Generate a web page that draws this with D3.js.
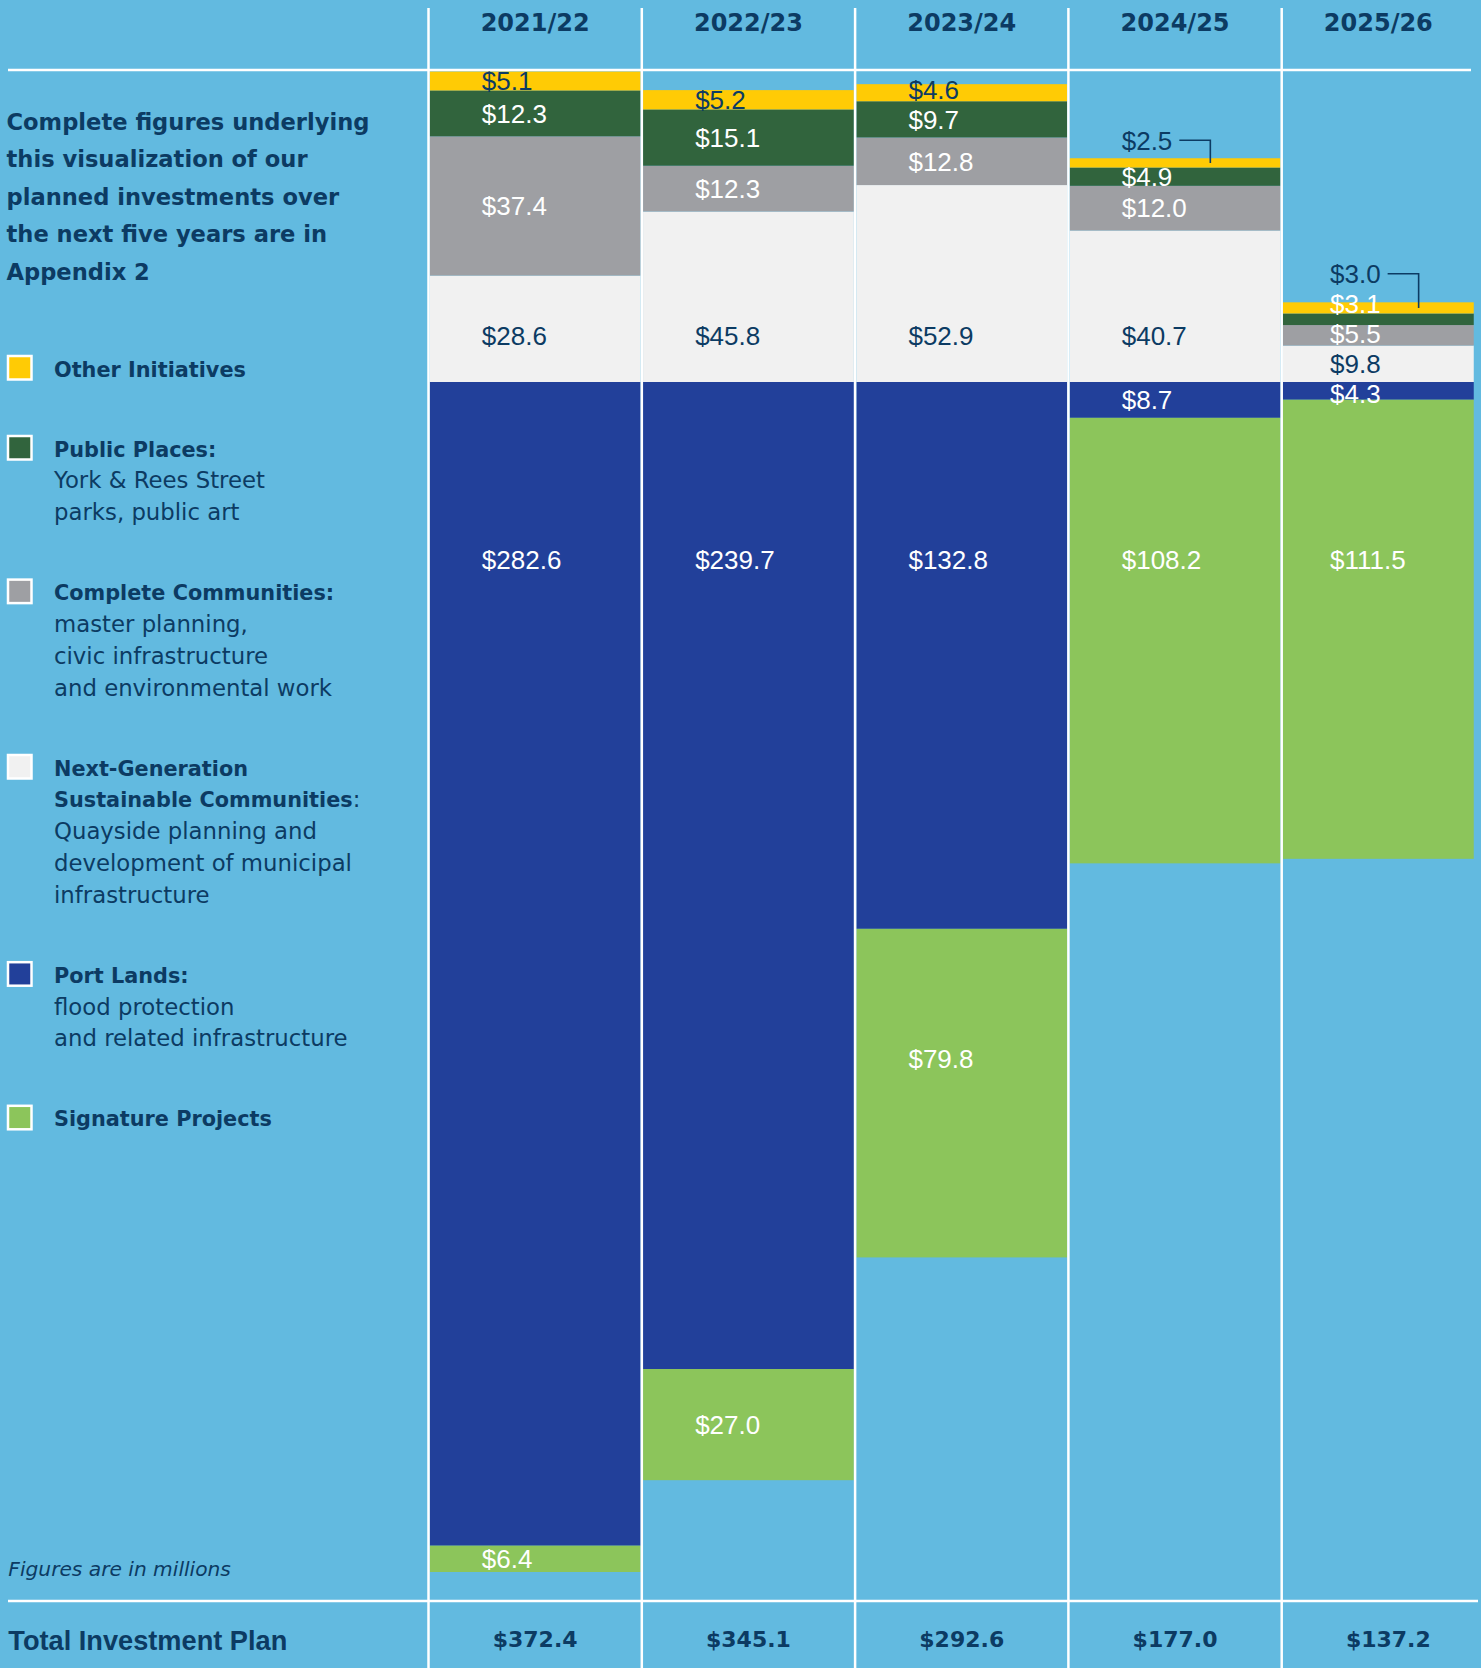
<!DOCTYPE html>
<html>
<head>
<meta charset="utf-8">
<script src="https://cdn.jsdelivr.net/npm/d3@7"></script>
<style>
  html, body { margin: 0; padding: 0; background: #62bae0; }
  svg { display: block; }
</style>
</head>
<body>
<svg id="chart" width="1481" height="1668"></svg>
<script>
// ---------------- DATA ----------------
const years = ["2021/22", "2022/23", "2023/24", "2024/25", "2025/26"];
const otherInitiatives    = [5.1, 5.2, 4.6, 2.5, 3.0];
const publicPlaces        = [12.3, 15.1, 9.7, 4.9, 3.1];
const completeCommunities = [37.4, 12.3, 12.8, 12.0, 5.5];
const nextGeneration      = [28.6, 45.8, 52.9, 40.7, 9.8];
const portLands           = [282.6, 239.7, 132.8, 8.7, 4.3];
const signatureProjects   = [6.4, 27.0, 79.8, 108.2, 111.5];

const legendKeys = ["oi", "pp", "cc", "ng", "pl", "sp"];
const legendTitles = [
  ["Other Initiatives"],
  ["Public Places:"],
  ["Complete Communities:"],
  ["Next-Generation", "Sustainable Communities"],
  ["Port Lands:"],
  ["Signature Projects"]
];
const legendTitleSuffix = ["", "", "", ":", "", ""];
const legendNotes = [
  [],
  ["York & Rees Street", "parks, public art"],
  ["master planning,", "civic infrastructure", "and environmental work"],
  ["Quayside planning and", "development of municipal", "infrastructure"],
  ["flood protection", "and related infrastructure"],
  []
];
const introLines = [
  "Complete figures underlying",
  "this visualization of our",
  "planned investments over",
  "the next five years are in",
  "Appendix 2"
];
const unitNote = "Figures are in millions";
const totalTitle = "Total Investment Plan";

// ---------------- STYLE ----------------
const W = 1481, H = 1668;
const BG = "#62bae0", NAVY = "#0c3b63", WHITE = "#ffffff";
const seriesKeys = ["ng", "cc", "pp", "oi", "pl", "sp"];
const seriesColor = { oi: "#ffcb05", pp: "#31643d", cc: "#9e9fa3", ng: "#f1f1f1", pl: "#22409a", sp: "#8cc55b" };
const labelColor  = { oi: NAVY, pp: WHITE, cc: WHITE, ng: NAVY, pl: WHITE, sp: WHITE };

const plotLeft = 428.5, plotRight = 1475, bandEnd = 1495;
const topY = 71.5, baseY = 382, bottomY = 1572;
const labelGap = 30;

const svg = d3.select("#chart");
svg.append("rect").attr("width", W).attr("height", H).attr("fill", BG);

// ---------------- STACK ----------------
const rows = years.map((yr, i) => ({
  year: yr,
  ng: nextGeneration[i], cc: completeCommunities[i], pp: publicPlaces[i], oi: otherInitiatives[i],
  pl: -portLands[i], sp: -signatureProjects[i]
}));
const layers = d3.stack().keys(seriesKeys).offset(d3.stackOffsetDiverging)(rows);
const maxAbove = d3.max(layers, L => d3.max(L, d => d[1]));
const minBelow = d3.min(layers, L => d3.min(L, d => d[0]));

const x = d3.scaleBand().domain(years).range([plotLeft, bandEnd]).padding(0);
const y = d3.scaleLinear().domain([maxAbove, 0, minBelow]).range([topY, baseY, bottomY]);
const bw = x.bandwidth();
const colRight = yr => Math.min(x(yr) + bw, plotRight);

// bars
const gBars = svg.append("g");
layers.forEach(L => {
  gBars.selectAll(null).data(L).join("rect")
    .attr("x", d => x(d.data.year) + 1.25)
    .attr("width", d => colRight(d.data.year) - x(d.data.year) - 2.5)
    .attr("y", d => y(d[1]))
    .attr("height", d => Math.max(0, y(d[0]) - y(d[1])))
    .attr("fill", seriesColor[L.key]);
});

// ---------------- VALUE LABELS ----------------
const fmt = v => "$" + Math.abs(v).toFixed(1);
const gLab = svg.append("g").attr("font-family", "'Liberation Sans', Arial, sans-serif").attr("font-size", 26);
const byKey = {};
layers.forEach(L => byKey[L.key] = L);

years.forEach((yr, j) => {
  const lx = x(yr) + 0.25 * (colRight(yr) - x(yr));
  const seg = k => {
    const d = byKey[k][j];
    return { top: y(d[1]), bot: y(d[0]), mid: (y(d[1]) + y(d[0])) / 2, val: d.data[k] };
  };
  // above the baseline, from bottom to top
  let prev = null, ngY = null;
  ["ng", "cc", "pp", "oi"].forEach(k => {
    const s = seg(k);
    const h = s.bot - s.top;
    if (k === "oi" && h < 14) {
      // label outside the bar with a leader line
      const cy = Math.min(s.top - 18, prev - labelGap);
      const t = gLab.append("text").attr("x", lx).attr("y", cy).attr("dy", "0.36em")
        .attr("fill", NAVY).text(fmt(s.val));
      const w = t.node().getComputedTextLength();
      gLab.append("path")
        .attr("d", `M${lx + w + 7},${cy}H${lx + w + 38}V${s.mid}`)
        .attr("fill", "none").attr("stroke", NAVY).attr("stroke-width", 1.6);
      return;
    }
    let cy = s.mid;
    if (k === "ng") { cy = Math.max(s.mid, baseY - 46); ngY = cy; }
    else cy = Math.min(s.mid, prev - labelGap);
    prev = cy;
    gLab.append("text").attr("x", lx).attr("y", cy).attr("dy", "0.36em")
      .attr("fill", labelColor[k]).text(fmt(s.val));
  });
  // below the baseline
  let prevBelow = ngY;
  ["pl", "sp"].forEach(k => {
    const s = seg(k);
    let cy = Math.min(s.mid, Math.max(s.top + 130, baseY + 178));
    cy = Math.max(cy, prevBelow + labelGap);
    prevBelow = cy;
    gLab.append("text").attr("x", lx).attr("y", cy).attr("dy", "0.36em")
      .attr("fill", labelColor[k]).text(fmt(s.val));
  });
});

// ---------------- GRID LINES ----------------
const gGrid = svg.append("g").attr("stroke", WHITE);
gGrid.selectAll("line.v").data(years).join("line")
  .attr("x1", d => x(d)).attr("x2", d => x(d))
  .attr("y1", 8).attr("y2", H).attr("stroke-width", 2.5);
gGrid.append("line").attr("x1", 8).attr("x2", 1471).attr("y1", 70).attr("y2", 70).attr("stroke-width", 2.5);
gGrid.append("line").attr("x1", 8).attr("x2", 1478).attr("y1", 1601).attr("y2", 1601).attr("stroke-width", 2.5);

// ---------------- HEADERS & TOTALS ----------------
svg.append("g").selectAll("text").data(years).join("text")
  .attr("x", d => (x(d) + colRight(d)) / 2).attr("y", 31)
  .attr("text-anchor", "middle")
  .attr("font-family", "'DejaVu Sans', sans-serif").attr("font-weight", "bold").attr("font-size", 24)
  .attr("fill", NAVY).text(d => d);

svg.append("g").selectAll("text").data(rows).join("text")
  .attr("x", d => x(d.year) + bw / 2).attr("y", 1647)
  .attr("text-anchor", "middle")
  .attr("font-family", "'DejaVu Sans', sans-serif").attr("font-weight", "bold").attr("font-size", 22)
  .attr("fill", NAVY)
  .text(d => "$" + (d.ng + d.cc + d.pp + d.oi - d.pl - d.sp).toFixed(1));

svg.append("text").attr("x", 8.3).attr("y", 1650)
  .attr("font-family", "'Liberation Sans', Arial, sans-serif").attr("font-weight", "bold").attr("font-size", 27.2)
  .attr("fill", NAVY).text(totalTitle);

svg.append("text").attr("x", 8.3).attr("y", 1576)
  .attr("font-family", "'DejaVu Sans', sans-serif").attr("font-style", "italic").attr("font-size", 20.2)
  .attr("fill", NAVY).text(unitNote);

// ---------------- INTRO ----------------
svg.append("g").selectAll("text").data(introLines).join("text")
  .attr("x", 6.5).attr("y", (d, i) => 130 + i * 37.4)
  .attr("font-family", "'DejaVu Sans', sans-serif").attr("font-weight", "bold").attr("font-size", 22.6)
  .attr("fill", NAVY).text(d => d);

// ---------------- LEGEND ----------------
const gLeg = svg.append("g").attr("fill", NAVY).attr("font-family", "'DejaVu Sans', sans-serif");
let by = 376.5;
const lineH = 31.8;
legendKeys.forEach((k, i) => {
  gLeg.append("rect").attr("x", 8).attr("y", by - 20.5).attr("width", 23.5).attr("height", 23.5)
    .attr("fill", seriesColor[k]).attr("stroke", WHITE).attr("stroke-width", 2.5);
  let ly = by;
  legendTitles[i].forEach((t, li) => {
    const tx = gLeg.append("text").attr("x", 54).attr("y", ly);
    tx.append("tspan").attr("font-weight", "bold").attr("font-size", 20.8).text(t);
    if (li === legendTitles[i].length - 1 && legendTitleSuffix[i])
      tx.append("tspan").attr("font-size", 22.8).text(legendTitleSuffix[i]);
    ly += lineH;
  });
  legendNotes[i].forEach(t => {
    gLeg.append("text").attr("x", 54).attr("y", ly).attr("font-size", 22.8).text(t);
    ly += lineH;
  });
  by = ly - lineH + 80;
});
</script>
</body>
</html>
